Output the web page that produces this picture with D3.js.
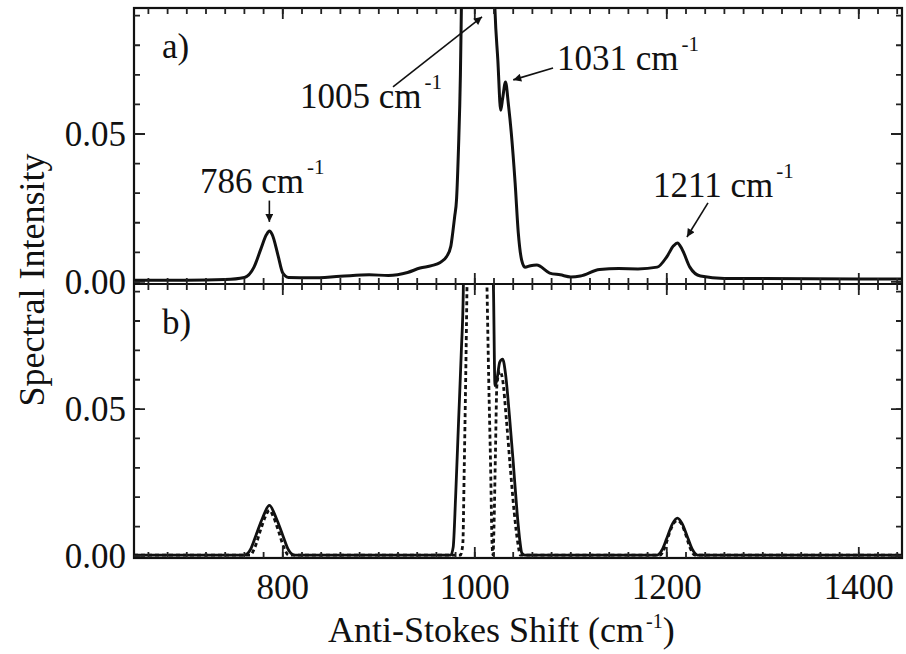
<!DOCTYPE html>
<html>
<head>
<meta charset="utf-8">
<script src="https://cdn.jsdelivr.net/npm/d3@7"></script>
<style>
  body { margin: 0; background: #fff; }
  svg { display: block; }
  text { font-family: "Liberation Serif", "Times New Roman", serif; fill: #111; }
</style>
</head>
<body>
<svg id="chart" width="906" height="654"></svg>
<script>
// a) measured anti-Stokes spectrum [shift cm-1, intensity]
const measured = [
  [645, 0.0006], [700, 0.0006], [740, 0.0008], [760, 0.0015], [770, 0.005],
  [777, 0.011], [783, 0.016], [786, 0.0172], [789, 0.016], [795, 0.009],
  [800, 0.003], [806, 0.0015], [830, 0.0014], [860, 0.0019], [890, 0.0024],
  [910, 0.0022], [930, 0.0032], [943, 0.0047], [955, 0.0055], [964, 0.0066],
  [970.5, 0.0085], [975, 0.012], [977, 0.0166], [979, 0.022], [981, 0.028],
  [983, 0.045], [985, 0.07], [986, 0.092], [987, 0.115], [1019, 0.115],
  [1021, 0.092], [1024, 0.075], [1027, 0.058], [1029, 0.062], [1032, 0.0676],
  [1035, 0.06], [1038, 0.0504], [1042, 0.0335], [1045.3, 0.0166], [1048.8, 0.0074],
  [1052.3, 0.005], [1058, 0.0055], [1064.5, 0.0057], [1078, 0.003], [1089, 0.0024],
  [1100, 0.0017], [1110, 0.002], [1130, 0.0042], [1150, 0.0045], [1170, 0.0044],
  [1190, 0.005], [1200, 0.0085], [1207, 0.0122], [1211, 0.0132], [1216, 0.011],
  [1224, 0.005], [1235, 0.002], [1260, 0.0012], [1300, 0.0012], [1400, 0.001],
  [1445, 0.001]
];

// b) fitted spectrum, solid
const fitTotal = [
  [645, 0.0003], [760, 0.0003], [766, 0.002], [772, 0.007], [779, 0.013],
  [786, 0.0172], [793, 0.013], [800, 0.007], [806, 0.002], [812, 0.0003],
  [975, 0.0003], [977.5, 0.003], [980, 0.02], [983, 0.045], [986, 0.07],
  [988, 0.09], [989, 0.115], [1017, 0.115], [1019.5, 0.09], [1021, 0.058],
  [1023, 0.06], [1026, 0.066], [1029, 0.067], [1032, 0.062], [1036, 0.048],
  [1040, 0.032], [1044, 0.015], [1047, 0.005], [1049, 0.001], [1052, 0.0003],
  [1190, 0.0003], [1195, 0.002], [1200, 0.006], [1206, 0.011], [1211, 0.0129],
  [1216, 0.011], [1222, 0.006], [1227, 0.002], [1232, 0.0003], [1445, 0.0003]
];

// b) individual bands, dotted
const fitBands = [
  [645, 0.0003], [766, 0.0003], [771, 0.003], [777, 0.009], [782, 0.0135],
  [786, 0.0155], [790, 0.0135], [795, 0.009], [801, 0.003], [806, 0.0003],
  [985, 0.0003], [987.5, 0.004], [989, 0.03], [990.5, 0.06], [992, 0.095],
  [993, 0.12], [1011, 0.12], [1012.5, 0.095], [1014.5, 0.06], [1016.5, 0.03],
  [1018, 0.004], [1019, 0.0003], [1020, 0.01], [1021.5, 0.035], [1023, 0.058],
  [1026, 0.063], [1029, 0.06], [1033, 0.046], [1037, 0.03], [1041, 0.015],
  [1045, 0.004], [1047.5, 0.0003], [1193, 0.0003], [1198, 0.003], [1203, 0.008],
  [1208, 0.0115], [1211, 0.012], [1214, 0.0115], [1219, 0.008], [1224, 0.003],
  [1229, 0.0003], [1445, 0.0003]
];

const xMajor = [800, 1000, 1200, 1400];
const xMinor = d3.range(660, 1445, 20);
const yMajor = [0, 0.05];
const yMinor = d3.range(0, 0.091, 0.01);

// peak labels: text, label pixel spot, arrow tail/head in data units
const peakLabels = [
  { text: '786 cm', tx: 200, ty: 193, from: [786, 0.0275], to: [786, 0.0203] },
  { text: '1005 cm', tx: 300, ty: 108, from: [914.8, 0.0659], to: [1007.5, 0.0896] },
  { text: '1031 cm', tx: 557, ty: 70, from: [1081.5, 0.0723], to: [1040, 0.0683] },
  { text: '1211 cm', tx: 653, ty: 197, from: [1242.9, 0.0267], to: [1221, 0.0152] }
];

const svg = d3.select('#chart');
const left = 134, right = 902;
const x = d3.scaleLinear().domain([645, 1445]).range([left, right]);
const panels = [
  { tag: 'a)', top: 8, bottom: 284 },
  { tag: 'b)', top: 284, bottom: 558 }
];
panels.forEach(p => {
  p.y = d3.scaleLinear().domain([-0.0007, 0.0926]).range([p.bottom, p.top]);
});

svg.append('defs').append('marker')
  .attr('id', 'head')
  .attr('viewBox', '0 0 10 10')
  .attr('refX', 10).attr('refY', 5)
  .attr('markerWidth', 10).attr('markerHeight', 8)
  .attr('markerUnits', 'userSpaceOnUse')
  .attr('orient', 'auto')
  .append('path').attr('d', 'M0,0L10,5L0,10Z').attr('fill', '#111');

const fmtY = d3.format('.2f');
const fmtX = d3.format('d');

// inward tick marks as one path per side
function ticks (g, values, scale, at, len, horizontal) {
  const d = values.map(v => {
    const s = scale(v);
    return horizontal ? `M${s},${at}V${at + len}` : `M${at},${s}H${at + len}`;
  }).join('');
  g.append('path')
    .attr('d', d)
    .attr('fill', 'none')
    .attr('stroke', '#222')
    .attr('stroke-width', 1.8);
}

panels.forEach((p, i) => {
  const clipId = 'clip' + i;
  svg.append('clipPath').attr('id', clipId)
    .append('rect')
    .attr('x', left).attr('y', p.top)
    .attr('width', right - left).attr('height', p.bottom - p.top);

  const line = d3.line()
    .x(d => x(d[0])).y(d => p.y(d[1]))
    .curve(d3.curveMonotoneX);

  const g = svg.append('g').attr('clip-path', `url(#${clipId})`);
  if (i === 0) {
    g.append('path').datum(measured)
      .attr('d', line).attr('fill', 'none')
      .attr('stroke', '#111').attr('stroke-width', 3);
  } else {
    g.append('path').datum(fitTotal)
      .attr('d', line).attr('fill', 'none')
      .attr('stroke', '#111').attr('stroke-width', 2.8);
    g.append('path').datum(fitBands)
      .attr('d', line).attr('fill', 'none')
      .attr('stroke', '#111').attr('stroke-width', 2.8)
      .attr('stroke-dasharray', '4,3');
  }

  svg.append('g').selectAll('text').data(yMajor).join('text')
    .attr('x', left - 8).attr('y', d => p.y(d))
    .attr('dy', '0.34em')
    .attr('text-anchor', 'end')
    .attr('font-size', 35)
    .text(fmtY);

  if (i === 1) {
    svg.append('g').selectAll('text').data(xMajor).join('text')
      .attr('x', d => x(d)).attr('y', p.bottom + 41)
      .attr('text-anchor', 'middle')
      .attr('font-size', 35)
      .text(fmtX);
  }

  svg.append('text')
    .attr('x', 162).attr('y', p.top + 50)
    .attr('font-size', 35)
    .text(p.tag);
});

// frames
svg.append('rect')
  .attr('x', left).attr('y', 8)
  .attr('width', right - left).attr('height', 558 - 8)
  .attr('fill', 'none').attr('stroke', '#111').attr('stroke-width', 2.2);
svg.append('line')
  .attr('x1', left).attr('x2', right).attr('y1', 284).attr('y2', 284)
  .attr('stroke', '#111').attr('stroke-width', 2.2);

// tick marks on top of everything
const tg = svg.append('g');
panels.forEach(p => {
  ticks(tg, xMinor, x, p.bottom, -6, true);
  ticks(tg, xMajor, x, p.bottom, -11, true);
  ticks(tg, xMinor, x, p.top, 6, true);
  ticks(tg, xMajor, x, p.top, 11, true);
  ticks(tg, yMinor, p.y, left, 6, false);
  ticks(tg, yMajor, p.y, left, 11, false);
  ticks(tg, yMinor, p.y, right, -6, false);
  ticks(tg, yMajor, p.y, right, -11, false);
});

// peak labels for panel a
const ya = panels[0].y;
peakLabels.forEach(d => {
  const t = svg.append('text').attr('x', d.tx).attr('y', d.ty).attr('font-size', 35);
  t.append('tspan').text(d.text);
  t.append('tspan').attr('dy', -19).attr('dx', 3).attr('font-size', 21).text('-1');
  svg.append('line')
    .attr('x1', x(d.from[0])).attr('y1', ya(d.from[1]))
    .attr('x2', x(d.to[0])).attr('y2', ya(d.to[1]))
    .attr('stroke', '#111').attr('stroke-width', 1.6)
    .attr('marker-end', 'url(#head)');
});

// axis titles
const xt = svg.append('text').attr('x', 328).attr('y', 642).attr('font-size', 36);
xt.append('tspan').text('Anti-Stokes Shift (cm');
xt.append('tspan').attr('dy', -14).attr('dx', 2).attr('font-size', 20).text('-1');
xt.append('tspan').attr('dy', 14).text(')');

svg.append('text')
  .attr('transform', 'translate(44,280) rotate(-90)')
  .attr('text-anchor', 'middle')
  .attr('font-size', 36)
  .text('Spectral Intensity');
</script>
</body>
</html>
